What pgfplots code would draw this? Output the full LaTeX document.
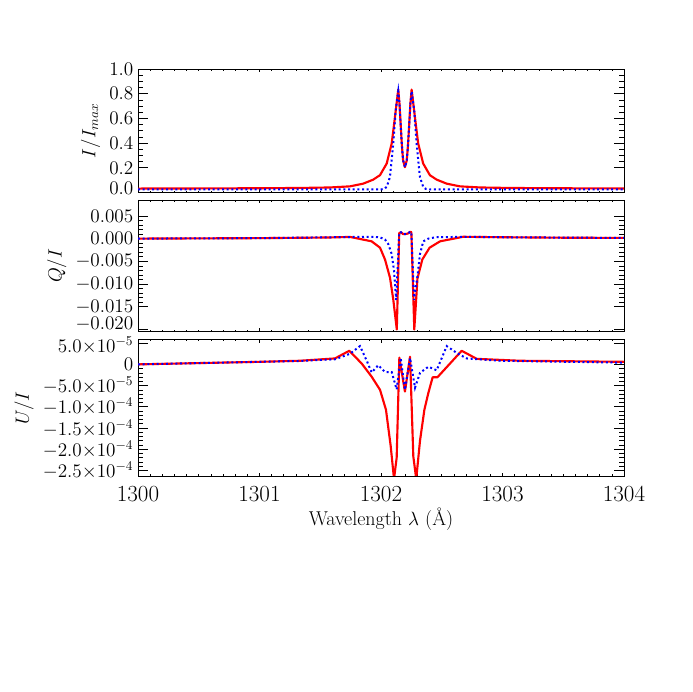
\documentclass[border=0pt]{standalone}
\usepackage{pgfplots}
\pgfplotsset{compat=1.18}
\begin{document}
\begin{tikzpicture}
\path (0,0) rectangle (519pt,519pt);
\pgfplotsset{
  panel/.style={
    at={(103.5pt,#1)}, anchor=south west,
    width=364.5pt, scale only axis,
    xmin=1300, xmax=1304,
    xtick={1300,1301,1302,1303,1304}, minor x tick num=9,
    tick align=inside, xtick pos=both, ytick pos=both,
    xtick style={/pgfplots/major tick length=2.5pt,/pgfplots/minor tick length=1.5pt,black,line width=0.5pt},
    ytick style={/pgfplots/major tick length=7.5pt,/pgfplots/minor tick length=3.75pt,black,line width=0.5pt},
    axis line style={black,line width=0.6pt},
    scaled y ticks=false,
    yticklabel style={font=\fontsize{14.5}{16}\selectfont},
    ylabel style={font=\fontsize{14}{16}\selectfont},
    xticklabel style={font=\fontsize{16.5}{18}\selectfont,yshift=-4.5pt,
      /pgf/number format/1000 sep={}},
    xlabel style={font=\fontsize{15}{17}\selectfont,yshift=2pt},
  },
  redline/.style={red,line width=1.6pt,line join=round},
  blueline/.style={blue,line width=1.5pt,dash pattern=on 1.5pt off 2pt},
}

% I/Imax
\begin{axis}[panel=374.6pt, height=92.6pt,
  ymin=0, ymax=1.0, ytick={0.2,0.4,0.6,0.8,1.0}, minor y tick num=3,
  extra y ticks={0}, extra y tick style={yticklabel style={yshift=3pt}},
  yticklabel style={/pgf/number format/fixed,/pgf/number format/fixed zerofill,/pgf/number format/precision=1},
  xticklabels={}, ylabel={$I/I_{max}$}]
\addplot[redline] coordinates {
(1300.000,0.032)(1300.400,0.033)(1300.800,0.034)(1301.200,0.036)(1301.400,0.038)
(1301.580,0.041)(1301.745,0.050)(1301.854,0.072)(1301.937,0.105)(1301.992,0.141)
(1302.047,0.235)(1302.088,0.397)(1302.115,0.612)(1302.142,0.834)(1302.152,0.72)
(1302.162,0.55)(1302.172,0.38)(1302.182,0.26)(1302.197,0.205)(1302.212,0.26)
(1302.222,0.38)(1302.232,0.55)(1302.242,0.72)(1302.252,0.834)(1302.279,0.612)
(1302.306,0.397)(1302.347,0.235)(1302.402,0.141)(1302.457,0.105)(1302.540,0.072)
(1302.649,0.050)(1302.814,0.041)(1302.994,0.038)(1303.194,0.036)(1303.594,0.034)
(1304.000,0.033)
};
\addplot[blueline] coordinates {
(1300.000,0.025)(1301.000,0.025)(1302.000,0.025)(1302.027,0.030)(1302.047,0.046)
(1302.074,0.127)(1302.101,0.397)(1302.121,0.667)(1302.142,0.820)(1302.152,0.72)
(1302.162,0.55)(1302.172,0.38)(1302.182,0.26)(1302.197,0.205)(1302.212,0.26)
(1302.222,0.38)(1302.232,0.55)(1302.242,0.72)(1302.252,0.820)(1302.273,0.667)
(1302.293,0.397)(1302.320,0.127)(1302.347,0.046)(1302.367,0.030)(1302.400,0.025)
(1303.000,0.025)(1304.000,0.025)
};
\end{axis}

% Q/I
\begin{axis}[panel=270.2pt, height=98.8pt,
  ymin=-0.0205, ymax=0.0085,
  ytick={-0.015,-0.010,-0.005,0,0.005}, minor y tick num=4,
  extra y ticks={-0.020}, extra y tick style={yticklabel style={yshift=4pt}},
  yticklabel style={/pgf/number format/fixed,/pgf/number format/fixed zerofill,/pgf/number format/precision=3},
  xticklabels={}, ylabel={$Q/I$}]
\addplot[redline] coordinates {
(1300.000,0.00000)(1300.500,0.00005)(1301.000,0.00010)(1301.400,0.00020)
(1301.580,0.00025)(1301.745,0.00037)(1301.923,-0.0006)(1301.992,-0.0020)
(1302.033,-0.0046)(1302.074,-0.0086)(1302.101,-0.0134)(1302.130,-0.0200)
(1302.150,0.0012)(1302.165,0.0014)(1302.180,0.0010)(1302.200,0.0010)
(1302.220,0.0011)(1302.240,0.0015)(1302.250,0.0014)(1302.274,-0.0200)
(1302.300,-0.0088)(1302.340,-0.0046)(1302.400,-0.0020)(1302.486,-0.0006)
(1302.675,0.00040)(1303.000,0.00030)(1303.500,0.00020)(1304.000,0.00015)
};
\addplot[blueline] coordinates {
(1300.000,0.00000)(1301.000,0.00010)(1301.600,0.00030)(1301.900,0.00040)
(1301.990,0.00030)(1302.033,-0.0002)(1302.060,-0.0012)(1302.088,-0.0034)
(1302.107,-0.0070)(1302.125,-0.0135)(1302.150,0.0013)(1302.165,0.0014)
(1302.180,0.0010)(1302.200,0.0010)(1302.220,0.0011)(1302.240,0.0015)
(1302.250,0.0014)(1302.272,-0.0135)(1302.299,-0.0085)(1302.321,-0.0034)
(1302.348,-0.0006)(1302.389,0.00000)(1302.450,0.00030)(1302.700,0.00040)
(1303.000,0.00030)(1304.000,0.00015)
};
\end{axis}

% U/I
\begin{axis}[panel=162pt, height=102.5pt,
  ymin=-2.63e-4, ymax=5.9e-5,
  ytick={-2.5e-4,-2e-4,-1.5e-4,-1e-4,-5e-5,0}, minor y tick num=4,
  yticklabels={$-2.5{\times}10^{-4}$,$-2.0{\times}10^{-4}$,$-1.5{\times}10^{-4}$,$-1.0{\times}10^{-4}$,$-5.0{\times}10^{-5}$,$0$},
  extra y ticks={5e-5}, extra y tick labels={$5.0{\times}10^{-5}$},
  extra y tick style={yticklabel style={yshift=-1.5pt}},
  ylabel={$U/I$}, xlabel={Wavelength $\lambda$ (\AA)}]
\addplot[redline] coordinates {
(1300.000,0)(1300.500,0.3e-5)(1301.000,0.6e-5)(1301.333,0.85e-5)(1301.621,1.4e-5)
(1301.739,3.2e-5)(1301.841,0.2e-5)(1301.923,-2.9e-5)(1301.992,-6.0e-5)
(1302.041,-10.7e-5)(1302.080,-19.3e-5)(1302.107,-27e-5)(1302.129,-22e-5)
(1302.151,1.6e-5)(1302.197,-6.4e-5)(1302.239,1.8e-5)(1302.266,-21.7e-5)
(1302.290,-27e-5)(1302.321,-18e-5)(1302.357,-10.7e-5)(1302.390,-6.7e-5)
(1302.425,-3.05e-5)(1302.464,-3.05e-5)(1302.664,3.2e-5)(1302.788,1.3e-5)
(1303.144,0.85e-5)(1304.000,0.6e-5)
};
\addplot[blueline] coordinates {
(1300.000,0)(1300.500,0.3e-5)(1301.000,0.6e-5)(1301.333,0.8e-5)(1301.621,1.2e-5)
(1301.745,2.5e-5)(1301.827,4.3e-5)(1301.882,0.9e-5)(1301.923,-1.9e-5)
(1301.978,-0.2e-5)(1302.033,-1.8e-5)(1302.088,-1.8e-5)(1302.129,-5.9e-5)
(1302.162,1.5e-5)(1302.197,-6.0e-5)(1302.239,1.5e-5)(1302.280,-5.5e-5)
(1302.321,-2.0e-5)(1302.390,-0.56e-5)(1302.458,-1.4e-5)(1302.541,4.3e-5)
(1302.623,2.7e-5)(1302.705,1.4e-5)(1302.979,0.85e-5)(1304.000,0.4e-5)
};
\end{axis}
\end{tikzpicture}
\end{document}
